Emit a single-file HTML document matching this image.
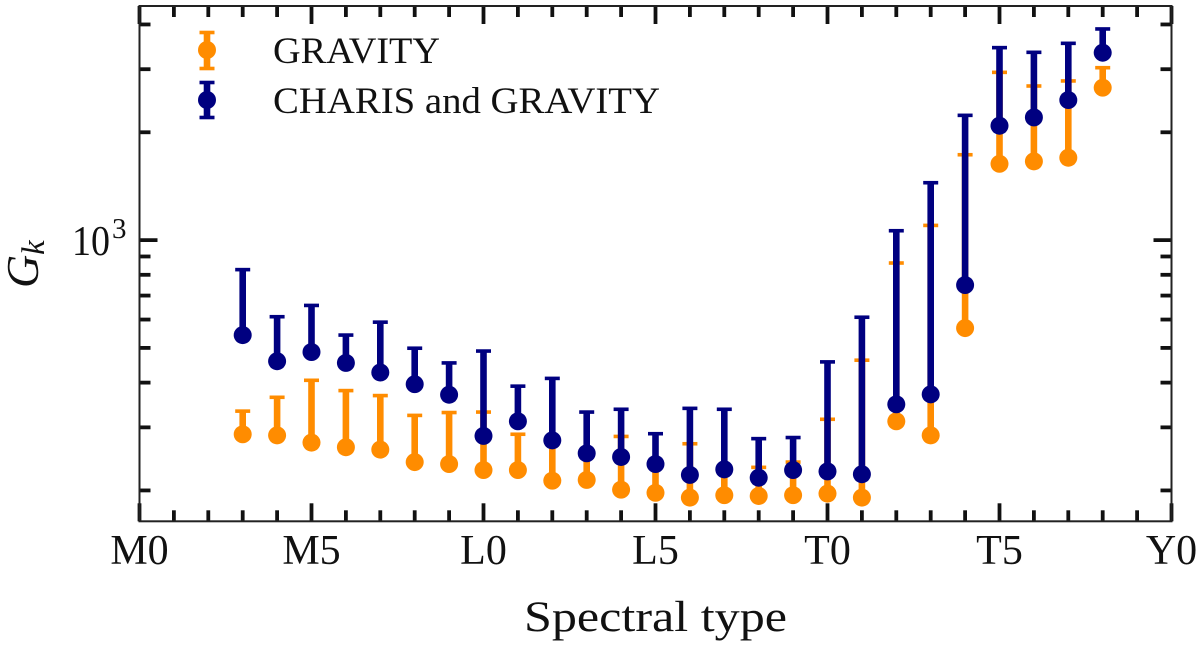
<!DOCTYPE html>
<html lang="en">
<head>
<meta charset="utf-8">
<title>Gk versus spectral type</title>
<style>
html,body{margin:0;padding:0;background:#fff;width:1200px;height:646px;overflow:hidden}
svg{display:block}
text{font-family:"Liberation Serif","DejaVu Serif",serif;fill:#111}
</style>
</head>
<body>
<svg id="chart" xmlns="http://www.w3.org/2000/svg" width="1200" height="646" viewBox="0 0 1200 646">
  <rect x="0" y="0" width="1200" height="646" fill="#fff"/>
  <g id="gravity-series"></g>
  <g id="charis-series"></g>
  <g id="ticks"></g>
  <rect x="139.5" y="6" width="1032" height="515.3" fill="none" stroke="#222" stroke-width="2"/>
  <g id="x-labels"></g>
  <g>
    <text x="72" y="255" font-size="42" textLength="38" lengthAdjust="spacingAndGlyphs">10</text>
    <text x="112" y="238" font-size="29">3</text>
  </g>
  <text x="524" y="631" font-size="43" textLength="263" lengthAdjust="spacingAndGlyphs">Spectral type</text>
  <g transform="translate(38,288) rotate(-90)">
    <text x="0" y="0" font-size="46" font-style="italic">G</text>
    <text x="33" y="6" font-size="33" font-style="italic">k</text>
  </g>
  <g>
    <g>
      <line x1="207" x2="207" y1="32" y2="69" stroke="#ff8c00" stroke-width="6.6"/>
      <line x1="199.5" x2="214.5" y1="32.5" y2="32.5" stroke="#ff8c00" stroke-width="3.6"/>
      <line x1="199.5" x2="214.5" y1="68.5" y2="68.5" stroke="#ff8c00" stroke-width="3.6"/>
      <circle cx="207" cy="50" r="9" fill="#ff8c00"/>
      <text x="273" y="63" font-size="37" textLength="167" lengthAdjust="spacingAndGlyphs">GRAVITY</text>
    </g>
    <g>
      <line x1="207" x2="207" y1="82" y2="118" stroke="#000080" stroke-width="6.6"/>
      <line x1="199.5" x2="214.5" y1="82.5" y2="82.5" stroke="#000080" stroke-width="3.6"/>
      <line x1="199.5" x2="214.5" y1="117.5" y2="117.5" stroke="#000080" stroke-width="3.6"/>
      <circle cx="207" cy="100" r="9" fill="#000080"/>
      <text x="273" y="113" font-size="37" textLength="387" lengthAdjust="spacingAndGlyphs">CHARIS and GRAVITY</text>
    </g>
  </g>
</svg>
<script>
// Chart data
const spectralIndex = [3,4,5,6,7,8,9,10,11,12,13,14,15,16,17,18,19,20,21,22,23,24,25,26,27,28];
const gravityValues = [287,285,272,264,260,240,237,228,228,213,214,201,197,191,194,193,194,196,191,312,285,568,1633,1659,1698,2664];
const gravityUpper = [333,364,406,380,368,324,330,331,287,276,254,283,238,270,231,232,240,316,462,863,1099,1731,2940,2693,2782,3029];
const charisValues = [543,459,487,454,427,396,370,284,312,276,254,248,237,221,229,217,228,226,222,348,371,749,2086,2201,2461,3336];
const charisUpper = [827,611,657,543,590,499,454,490,391,411,331,337,288,339,337,279,281,457,609,1062,1446,2230,3446,3344,3543,3886];
const xTickLabels = ['M0','M5','L0','L5','T0','T5','Y0'];
const yMinorTicks = [200,300,400,500,600,700,800,900,2000,3000,4000];
const yMajorTicks = [1000];

// Axis functions
const NS = 'http://www.w3.org/2000/svg';
const plotLeft = 139.5, plotRight = 1171.5, plotTop = 6, plotBottom = 521.3;
const xDomainMax = 30, yDomainMin = 164, yDomainMax = 4504;
function xScale(k) { return plotLeft + (plotRight - plotLeft) * k / xDomainMax; }
function yScale(v) {
  const span = Math.log10(yDomainMax) - Math.log10(yDomainMin);
  return plotBottom - (plotBottom - plotTop) * (Math.log10(v) - Math.log10(yDomainMin)) / span;
}
function make(tag, parent, attrs) {
  const el = document.createElementNS(NS, tag);
  for (const key in attrs) el.setAttribute(key, attrs[key]);
  parent.appendChild(el);
  return el;
}

function drawSeries(parent, values, upper, color, label) {
  values.forEach(function (value, i) {
    const cx = xScale(spectralIndex[i]);
    const cy = yScale(value);
    const top = yScale(upper[i]);
    const bar = make('line', parent, {x1: cx, x2: cx, y1: cy, y2: top, stroke: color, 'stroke-width': 6.6});
    
    
    const cap = make('line', parent, {x1: cx - 7.5, x2: cx + 7.5, y1: top, y2: top, stroke: color, 'stroke-width': 3.6});
    
    
    const point = make('circle', parent, {cx: cx, cy: cy, r: 9, fill: color});
    
    
  });
}
drawSeries(document.getElementById('gravity-series'), gravityValues, gravityUpper, '#ff8c00', 'gravity');
drawSeries(document.getElementById('charis-series'), charisValues, charisUpper, '#000080', 'charis');

// Ticks
const tickGroup = document.getElementById('ticks');
const tickStroke = '#111', tickWidth = 3.8, majorLen = 18, minorLen = 11;
for (let k = 0; k <= xDomainMax; k++) {
  const len = k % 5 === 0 ? majorLen : minorLen;
  const x = xScale(k);
  const bottomTick = make('line', tickGroup, {x1: x, x2: x, y1: plotBottom, y2: plotBottom - len, stroke: tickStroke, 'stroke-width': tickWidth});
  
  
  const topTick = make('line', tickGroup, {x1: x, x2: x, y1: plotTop, y2: plotTop + len, stroke: tickStroke, 'stroke-width': tickWidth});
  
  
}
function drawYTick(v, len) {
  const y = yScale(v);
  const leftTick = make('line', tickGroup, {x1: plotLeft, x2: plotLeft + len, y1: y, y2: y, stroke: tickStroke, 'stroke-width': tickWidth});
  
  
  const rightTick = make('line', tickGroup, {x1: plotRight, x2: plotRight - len, y1: y, y2: y, stroke: tickStroke, 'stroke-width': tickWidth});
  
  
}
yMinorTicks.forEach(function (v) { drawYTick(v, minorLen); });
yMajorTicks.forEach(function (v) { drawYTick(v, majorLen); });

// X tick labels
const labelGroup = document.getElementById('x-labels');
xTickLabels.forEach(function (text, i) {
  const label = make('text', labelGroup, {x: xScale(i * 5), y: 564, 'font-size': 42, 'text-anchor': 'middle'});
  label.textContent = text;
  
  
});
</script>
</body>
</html>
